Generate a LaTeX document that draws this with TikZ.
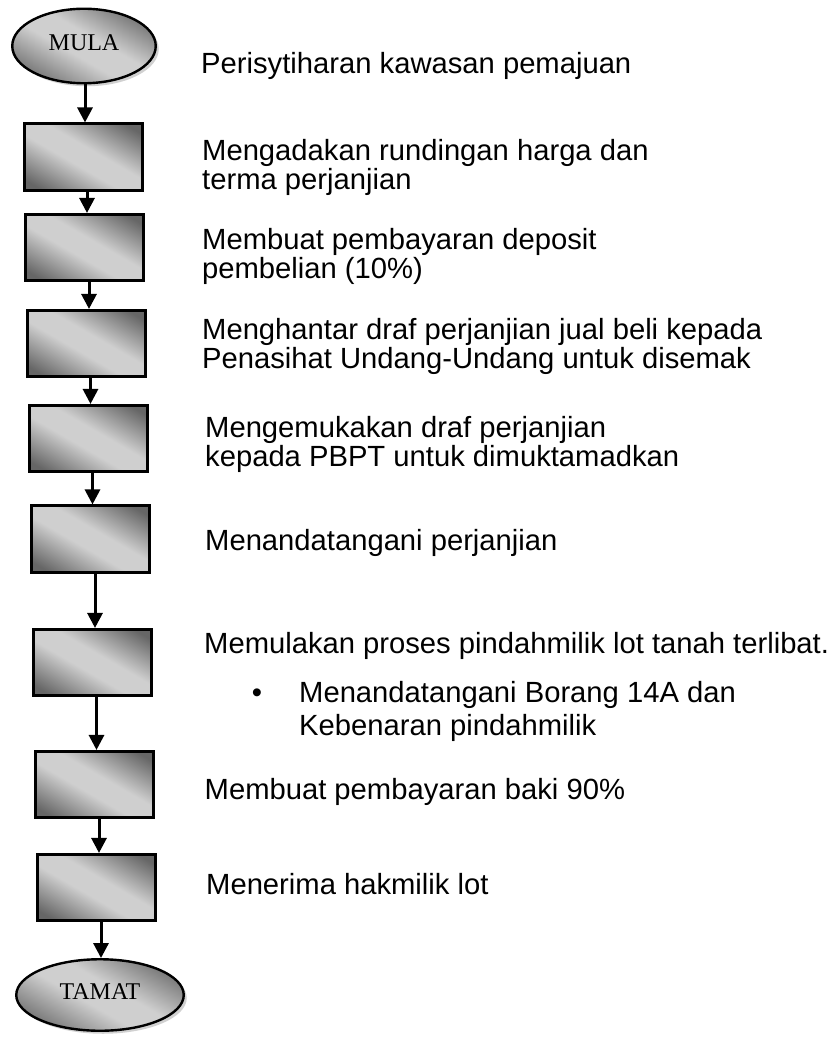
\documentclass[tikz,border=0pt]{standalone}
\usepackage{fontspec}
\setmainfont{Liberation Sans}
\newfontfamily\timesf{Liberation Serif}
\usetikzlibrary{arrows.meta,shapes.geometric,shadows}
\definecolor{shdark}{gray}{0.40}
\definecolor{shlight}{gray}{0.81}
\pgfdeclareverticalshading{boxshade}{100bp}{color(0bp)=(shdark); color(21bp)=(shdark); color(44bp)=(shlight); color(56bp)=(shlight); color(79bp)=(shdark); color(100bp)=(shdark)}
\tikzset{
  grad/.style={shading=boxshade, shading angle=-30},
  stepbox/.style={draw=black, line width=2.6pt, rectangle, minimum width=118.4pt, minimum height=66.5pt, inner sep=0pt, grad},
  termell/.style={draw=black, line width=2.4pt, ellipse, inner sep=0pt, grad,
    drop shadow={shadow xshift=3pt, shadow yshift=-3pt, fill=gray!45, opacity=0.8},
    font=\timesf\fontsize{24}{24}\selectfont, text depth=6pt},
  lbl/.style={anchor=base west, inner sep=0pt, align=left, font=\fontsize{29.2}{29}\selectfont},
  arr/.style={line width=3pt, -{Triangle[width=15pt,length=15pt]}}
}
\begin{document}
\begin{tikzpicture}[x=1pt,y=-1pt]
\useasboundingbox (0,0) rectangle (838,1038);
\fill[white] (0,0) rectangle (838,1038);
% terminals
\node[termell, minimum width=143.5pt, minimum height=74.5pt] (mula) at (84,46) {MULA};
\node[termell, minimum width=167.5pt, minimum height=71.5pt] (tamat) at (100,995) {TAMAT};
% process boxes
\node[stepbox] (b1) at (83.5,157) {};
\node[stepbox] (b2) at (84.5,247.5) {};
\node[stepbox] (b3) at (86.5,343.5) {};
\node[stepbox] (b4) at (88.5,438.5) {};
\node[stepbox] (b5) at (90.5,539) {};
\node[stepbox] (b6) at (92.5,662.5) {};
\node[stepbox] (b7) at (94.5,784.5) {};
\node[stepbox] (b8) at (96.5,887.5) {};
% connectors
\coordinate (c0) at ([xshift=1pt]mula.south);
\coordinate (c1) at ([xshift=3.5pt]b1.south);
\coordinate (c2) at ([xshift=4.5pt]b2.south);
\coordinate (c3) at ([xshift=4pt]b3.south);
\coordinate (c4) at ([xshift=4pt]b4.south);
\coordinate (c5) at ([xshift=4.5pt]b5.south);
\coordinate (c6) at ([xshift=4pt]b6.south);
\coordinate (c7) at ([xshift=4.5pt]b7.south);
\coordinate (c8) at ([xshift=4.5pt]b8.south);
\draw[arr] (c0) -- (c0 |- b1.north);
\draw[arr] (c1) -- (c1 |- b2.north);
\draw[arr] (c2) -- (c2 |- b3.north);
\draw[arr] (c3) -- (c3 |- b4.north);
\draw[arr] (c4) -- (c4 |- b5.north);
\draw[arr] (c5) -- (c5 |- b6.north);
\draw[arr] (c6) -- (c6 |- b7.north);
\draw[arr] (c7) -- (c7 |- b8.north);
\draw[arr] (c8) -- (c8 |- tamat.north);
% texts (base anchor of a two-line node is the baseline of its last line)
\node[lbl] (t0) at (201,74) {Perisytiharan kawasan pemajuan};
\node[lbl] (t1) at (202,189) {Mengadakan rundingan harga dan\\terma perjanjian};
\node[lbl] (t2) at (202,278) {Membuat pembayaran deposit\\pembelian (10\%)};
\node[lbl] (t3) at (202,368) {Menghantar draf perjanjian jual beli kepada\\Penasihat Undang-Undang untuk disemak};
\node[lbl] (t4) at (205,466) {Mengemukakan draf perjanjian\\kepada PBPT untuk dimuktamadkan};
\node[lbl] (t5) at (205,550) {Menandatangani perjanjian};
\node[lbl] (t6) at (204,653) {Memulakan proses pindahmilik lot tanah terlibat.};
\node[lbl, anchor=base] (bul) at (257,702) {•};
\node[lbl] (t7) at (299,735) {Menandatangani Borang 14A dan\\[4pt]Kebenaran pindahmilik};
\node[lbl] (t8) at (204.5,799) {Membuat pembayaran baki 90\%};
\node[lbl] (t9) at (206,894) {Menerima hakmilik lot};
\end{tikzpicture}
\end{document}
